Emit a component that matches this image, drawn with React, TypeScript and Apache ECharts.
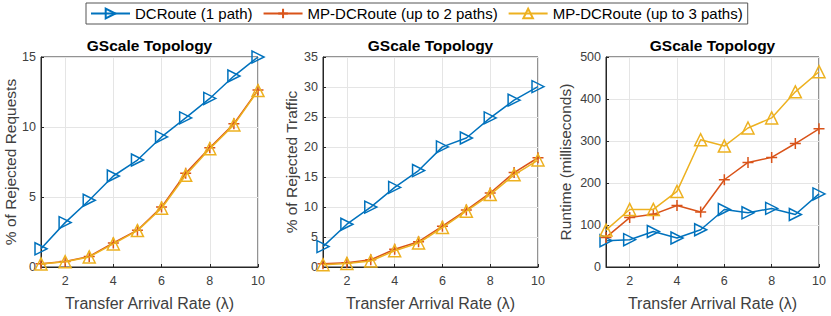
import React, { useEffect, useRef } from "react";
import * as echarts from "echarts";

const xValues = [1, 2, 3, 4, 5, 6, 7, 8, 9, 10];
const xTicks = [2, 4, 6, 8, 10];
const seriesNames = ["DCRoute (1 path)", "MP-DCRoute (up to 2 paths)", "MP-DCRoute (up to 3 paths)"];
const panelTitles = ["GScale Topology", "GScale Topology", "GScale Topology"];
const yNames = ["% of Rejected Requests", "% of Rejected Traffic", "Runtime (milliseconds)"];
const xName = "Transfer Arrival Rate (λ)";

const reqDC = [1.3, 3.17, 4.77, 6.5, 7.64, 9.29, 10.65, 12.04, 13.64, 15.0];
const reqMP2 = [0.24, 0.4, 0.75, 1.72, 2.63, 4.28, 6.7, 8.51, 10.23, 12.65];
const reqMP3 = [0.22, 0.38, 0.72, 1.65, 2.6, 4.2, 6.55, 8.45, 10.15, 12.6];

const trafDC = [3.4, 7.13, 9.98, 13.27, 16.07, 20.02, 21.5, 24.85, 27.81, 30.06];
const trafMP2 = [0.55, 0.71, 1.2, 2.96, 4.22, 6.8, 9.49, 12.34, 15.74, 18.21];
const trafMP3 = [0.38, 0.6, 1.0, 2.7, 4.0, 6.58, 9.3, 12.07, 15.36, 17.83];

const rtDC = [62.7, 65, 84.6, 69, 88.6, 137, 129, 139.5, 125, 174];
const rtMP2 = [70.5, 117.6, 125.4, 146.6, 130.9, 207.7, 249, 261, 294, 329];
const rtMP3 = [87.8, 137, 137, 180, 303, 288, 331, 355, 417, 465];

const yMax = [15, 35, 500];
const yInterval = [5, 5, 100];

const colors = ["#0072BD", "#D95319", "#EDB120"];
const FONT = "Liberation Sans";
const AXIS_COLOR = "#262626";
const LABEL_COLOR = "#404040";

const gridsPx = [
  { left: 41, right: 258 },
  { left: 323, right: 538 },
  { left: 606, right: 819 },
];
const yNameGaps = [19, 24, 33];

export default function App() {
  const ref = useRef<HTMLDivElement>(null);
  useEffect(() => {
    document.body.style.margin = "0";
    const chart = echarts.init(ref.current!, null, { renderer: "svg" });
    const panels = [
      [reqDC, reqMP2, reqMP3],
      [trafDC, trafMP2, trafMP3],
      [rtDC, rtMP2, rtMP3],
    ];
    const plusPath = "path://M0,5L10,5M5,0L5,10";
    const markerDefs = [
      { symbol: "triangle", rotate: -90, size: 12 },
      { symbol: plusPath, rotate: 0, size: 11 },
      { symbol: "triangle", rotate: 0, size: 12 },
    ];
    const series: any[] = [];
    panels.forEach((p, gi) => {
      p.forEach((vals, si) => {
        series.push({
          type: "line",
          name: seriesNames[si],
          xAxisIndex: gi,
          yAxisIndex: gi,
          data: xValues.map((x, i) => [x, vals[i]]),
          symbol: markerDefs[si].symbol,
          symbolRotate: markerDefs[si].rotate,
          symbolSize: markerDefs[si].size,
          showAllSymbol: true,
          lineStyle: { color: colors[si], width: 1.5 },
          itemStyle: { color: "rgba(0,0,0,0)", borderColor: colors[si], borderWidth: 1.5 },
          z: 2 + si,
        });
      });
    });
    const option: any = {
      animation: false,
      backgroundColor: "#fff",
      textStyle: { fontFamily: FONT },
      legend: {
        data: seriesNames.map((n) => ({ name: n })),
        left: 86,
        top: 3,
        padding: [3, 5, 3, 4],
        itemGap: 10,
        itemWidth: 39,
        itemHeight: 12,
        borderColor: "#555",
        borderWidth: 1,
        textStyle: { fontFamily: FONT, fontSize: 15, color: "#000" },
      },
      title: panelTitles.map((t, i) => ({
        text: t,
        left: (gridsPx[i].left + gridsPx[i].right) / 2,
        textAlign: "center",
        top: 37,
        padding: 0,
        textStyle: { fontFamily: FONT, fontSize: 15.5, fontWeight: "bold", color: "#000" },
      })),
      grid: gridsPx.map((g) => ({
        left: g.left,
        width: g.right - g.left,
        top: 57,
        height: 213,
        show: true,
        borderColor: AXIS_COLOR,
        borderWidth: 1,
        backgroundColor: "#fff",
        containLabel: false,
      })),
      xAxis: gridsPx.map((g, i) => ({
        type: "value",
        gridIndex: i,
        min: 1,
        max: 10,
        name: xName,
        nameLocation: "middle",
        nameGap: 28,
        nameTextStyle: { fontFamily: FONT, fontSize: 16, color: LABEL_COLOR },
        axisLine: { show: true, lineStyle: { color: AXIS_COLOR } },
        axisTick: { show: true, inside: true, length: 3, customValues: xTicks, lineStyle: { color: AXIS_COLOR } },
        axisLabel: { customValues: xTicks, fontFamily: FONT, fontSize: 12.5, color: LABEL_COLOR, margin: 7 },
        splitLine: { show: true, lineStyle: { color: "#e5e5e5" } },
      })),
      yAxis: gridsPx.map((g, i) => ({
        type: "value",
        gridIndex: i,
        min: 0,
        max: yMax[i],
        interval: yInterval[i],
        name: yNames[i],
        nameLocation: "middle",
        nameGap: yNameGaps[i],
        nameTextStyle: { fontFamily: FONT, fontSize: 15.5, color: LABEL_COLOR },
        axisLine: { show: true, lineStyle: { color: AXIS_COLOR } },
        axisTick: { show: true, inside: true, length: 3, lineStyle: { color: AXIS_COLOR } },
        axisLabel: { fontFamily: FONT, fontSize: 12.5, color: LABEL_COLOR, margin: 5 },
        splitLine: { show: true, lineStyle: { color: "#e5e5e5" } },
      })),
      series,
    };
    chart.setOption(option);
    return () => chart.dispose();
  }, []);
  return <div ref={ref} style={{ width: 831, height: 316 }} />;
}
